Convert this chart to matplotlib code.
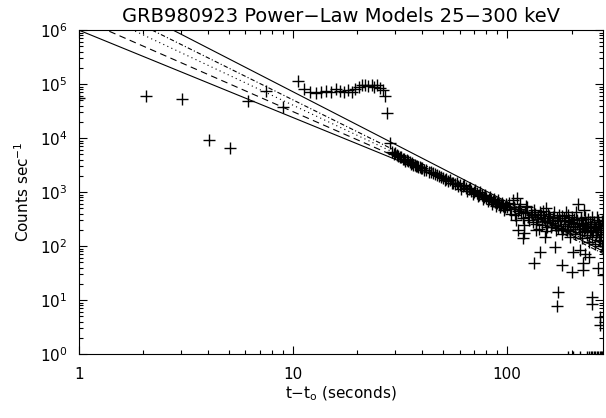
import numpy as np
import matplotlib
matplotlib.use("Agg")
import matplotlib.pyplot as plt

# early points and plateau
x_early = [1.0, 2.06, 3.03, 4.05, 5.08, 6.16, 7.5, 9.0]
y_early = [5.5e4, 6.0e4, 5.3e4, 9.1e3, 6.5e3, 4.9e4, 7.5e4, 3.7e4]

x_plat = [10.5, 11.2, 12.0, 12.8, 13.5, 14.3, 15.0, 15.8, 16.5, 17.3, 18.0, 18.8,
          19.5, 20.3, 21.0, 21.8, 22.5, 23.3, 24.0, 24.8, 25.5, 26.3, 27.0, 27.5, 28.4]
y_plat = [1.15e5, 8.0e4, 7.2e4, 6.8e4, 7.0e4, 7.6e4, 7.2e4, 8.0e4, 7.5e4, 7.0e4, 7.8e4, 7.2e4,
          8.2e4, 9.0e4, 9.5e4, 9.8e4, 9.2e4, 9.6e4, 9.0e4, 9.5e4, 8.5e4, 7.8e4, 6.0e4, 2.9e4, 8.1e3]

# decay band
x_band = [29, 29.5, 30, 30.5, 31, 31.5, 32, 32.5, 33, 33.5, 34, 34.5, 35, 35.5, 36, 36.5,
          37, 37.5, 38, 38.5, 39, 39.5, 40, 41, 42, 43, 44, 45, 46, 47, 48, 49, 50, 51,
          52, 53, 54, 55, 56, 57, 58, 59, 60, 62, 64, 66, 68, 70, 72, 74, 76, 78, 80,
          82, 84, 86, 88, 90, 92, 94, 96, 98, 100]
y_band = [5600, 5000, 5200, 4900, 4700, 4500, 4400, 4100, 4100, 3800, 3900, 3700, 3600, 3300,
          3500, 3200, 3200, 3000, 3100, 2900, 2900, 2800, 2800, 2600, 2600, 2400, 2350, 2300,
          2150, 2050, 2000, 1900, 1850, 1700, 1750, 1600, 1650, 1500, 1500, 1400, 1450, 1300,
          1350, 1300, 1200, 1150, 1050, 1000, 980, 900, 870, 820, 780, 760, 700, 680, 650,
          620, 600, 570, 560, 540, 520]
x_band2 = [61, 63, 65, 67, 69, 71, 73, 75, 77, 79, 81, 83, 85, 87, 89, 91, 93, 95, 97, 99]
y_band2 = [1150, 1350, 1050, 1200, 920, 1100, 850, 1000, 760, 900, 680, 820, 610, 760, 560,
           700, 520, 640, 470, 600]

x_tail = [101.5, 103, 104.5, 106, 107.5, 109, 110.5, 112, 113.5, 115, 116.5, 118, 119.5, 121,
          122.5, 124, 125.5, 127, 128.5, 130, 131.5, 133, 134.5, 136, 137.5, 139, 140.5, 142,
          143.5, 145, 146.5, 148, 149.5, 151, 152.5, 154, 155.5, 157, 158.5, 160, 161.5, 163,
          164.5, 166, 167.5, 169, 170.5, 172, 173.5, 175, 176.5, 178, 179.5, 181, 182.5, 184,
          185.5, 187, 188.5, 190, 191.5, 193, 194.5, 196, 197.5, 199, 200.5, 202, 203.5, 205,
          206.5, 208, 209.5, 211, 212.5, 214, 215.5, 217, 218.5, 220, 221.5, 223, 224.5, 226,
          227.5, 229, 230.5, 232, 233.5, 235, 236.5, 238, 239.5, 241, 242.5, 244, 245.5, 247,
          248.5, 250, 251.5, 253, 254.5, 256, 257.5, 259, 260.5, 262, 263.5, 265, 266.5, 268,
          269.5, 271, 272.5, 274, 275.5, 277, 278.5]
y_tail = [620, 480, 390, 700, 530, 380, 300, 450, 480, 600, 410, 330, 250, 420,
          560, 520, 350, 300, 430, 380, 280, 460, 390, 260, 320, 350, 210, 420,
          370, 250, 440, 330, 290, 500, 190, 280, 400, 360, 330, 230, 270, 310,
          350, 420, 250, 200, 330, 290, 220, 380, 300, 240, 360, 170, 210, 330,
          290, 260, 420, 200, 240, 380, 310, 150, 190, 280, 350, 230, 270, 320,
          210, 170, 430, 260, 300, 600, 240, 210, 180, 300, 330, 140, 270, 250,
          470, 190, 220, 350, 260, 160, 200, 230, 320, 120, 180, 280, 240, 200,
          340, 150, 190, 260, 280, 110, 230, 220, 160, 180, 350, 300, 200, 130,
          260, 240, 150, 170, 220, 100, 290]

# scattered low points
x_low = [111, 119, 112, 120, 133, 137, 142, 150, 154, 167, 170, 173, 180, 200, 203, 218, 226,
         226, 230, 240, 250, 250, 265, 270, 270, 270, 280]
y_low = [780, 140, 200, 175, 49, 200, 78, 150, 225, 96, 7.8, 14, 45, 33, 78, 85, 36,
         49, 72, 63, 11.5, 8.5, 40, 4.9, 3.5, 126, 29]

# points at the floor
x_floor = [193, 202, 218, 236, 241, 246, 250, 254, 258, 262, 266, 270, 274, 278]
y_floor = [0.9] * len(x_floor)

# power-law models: amplitude, index
amps = [1.0e6, 1.68e6, 2.96e6, 4.7e6, 7.9e6]
indices = [1.62, 1.736, 1.862, 1.965, 2.04]
styles = ["-", (0, (6, 4)), (0, (1, 3)), (0, (4, 2, 1, 2)), "-"]

fig = plt.figure(figsize=(6.06, 4.18), dpi=100)
ax = fig.add_axes([0.130, 0.153, 0.865, 0.775])

xs = np.logspace(0, np.log10(300), 200)
for a, k, ls in zip(amps, indices, styles):
    ax.plot(xs, a * xs ** (-k), color="black", lw=0.8, linestyle=ls)

mk = dict(marker="+", linestyle="none", color="black", markersize=8, markeredgewidth=1.0)
for xv, yv in [(x_early, y_early), (x_plat, y_plat), (x_band, y_band), (x_band2, y_band2),
               (x_tail, y_tail), (x_low, y_low), (x_floor, y_floor)]:
    ax.plot(xv, yv, **mk)

ax.set_xscale("log")
ax.set_yscale("log")
ax.set_xlim(1, 280)
ax.set_ylim(1, 1e6)
ax.set_xticks([1, 10, 100])
ax.set_xticklabels(["1", "10", "100"])
ax.tick_params(which="both", direction="in", top=True, right=True, labelsize=11)
ax.tick_params(which="major", length=6, width=0.8)
ax.tick_params(which="minor", length=3, width=0.8)
ax.tick_params(axis="x", pad=9)
ax.tick_params(axis="y", pad=8)
for s in ax.spines.values():
    s.set_linewidth(0.8)

ax.set_title("GRB980923 Power\u2212Law Models 25\u2212300 keV", fontsize=14, pad=6)
ax.set_xlabel("t\u2212t$_\\mathregular{o}$ (seconds)", fontsize=11, labelpad=2)
ax.set_ylabel("Counts sec$^{\\mathregular{-1}}$", fontsize=11, labelpad=6)

fig.savefig("out.png", dpi=100)
